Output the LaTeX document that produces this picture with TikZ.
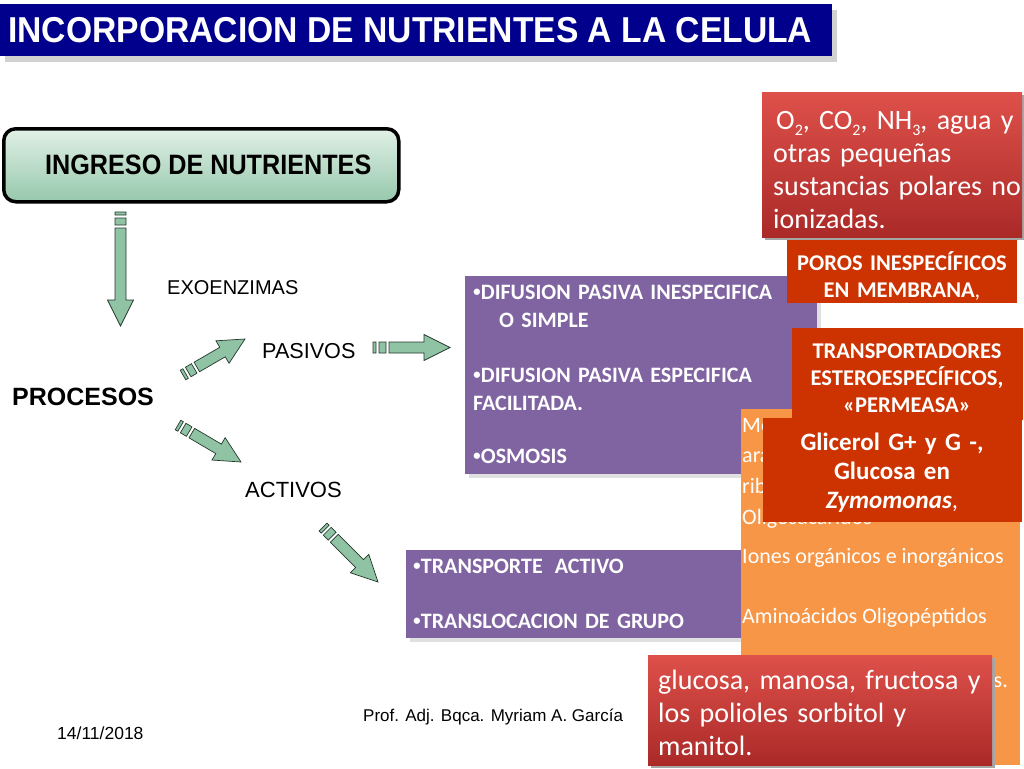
\documentclass[tikz,border=0pt]{standalone}
\usepackage{fontspec}
\setmainfont{Liberation Sans}
\newfontfamily\calibri{Carlito}
\usetikzlibrary{calc,shadows}

\definecolor{titleblue}{RGB}{0,0,140}
\definecolor{mint}{RGB}{143,195,164}
\definecolor{mintline}{RGB}{35,55,45}
\definecolor{mintlight}{RGB}{225,240,230}
\definecolor{mintdark}{RGB}{150,200,172}
\definecolor{lila}{RGB}{128,100,162}
\definecolor{orangebox}{RGB}{247,150,70}
\definecolor{rust}{RGB}{204,51,0}
\definecolor{redtop}{RGB}{222,80,74}
\definecolor{redbot}{RGB}{170,42,40}

\newcommand\bul{{\rmfamily\bfseries •}}
\newcommand\sub[1]{\raisebox{-0.22em}{\fontsize{16}{16}\selectfont #1}}

\tikzset{
  plainbox/.style={inner sep=0pt, anchor=north west},
  titlebar/.style={plainbox, fill=titleblue, general shadow={fill=black!18, shadow xshift=5pt, shadow yshift=-6pt}},
  ingreso/.style={plainbox, rounded corners=12pt, draw=black, line width=3.5pt,
    top color=mintlight, bottom color=mintdark, font=\fontsize{28}{32}\selectfont\bfseries},
  lilabox/.style={plainbox, fill=lila, general shadow={fill=black!12, shadow xshift=4pt, shadow yshift=-4pt}},
  redbox/.style={plainbox, top color=redtop, bottom color=redbot, general shadow={fill=black!35, shadow xshift=3pt, shadow yshift=-3pt}},
  rustbox/.style={plainbox, fill=rust},
  lbl/.style={anchor=base west, inner sep=0pt},
  boxtext/.style={anchor=base west, inner sep=0pt, text=white, font=\calibri\bfseries\fontsize{22}{28}\selectfont},
  orgtext/.style={inner sep=0pt, text=white, font=\calibri\fontsize{22}{27}\selectfont},
  redtext/.style={anchor=base west, inner sep=0pt, text=white, text width=262pt, align=left, font=\calibri\fontsize{28}{33.3}\selectfont},
  rusttext/.style={anchor=base, inner sep=0pt, text=white, text width=228pt, align=center, font=\calibri\bfseries\fontsize{22.5}{27}\selectfont},
  arrowfill/.style={fill=mint, draw=mintline, line width=0.7pt},
  pics/fatarrow/.style={code={
    \filldraw[arrowfill] (0,-5.5) rectangle (3,5.5) (6,-5.5) rectangle (13,5.5)
      (16,-5.5) -- ({#1-26},-5.5) -- ({#1-26},-13) -- (#1,0) -- ({#1-26},13) -- ({#1-26},5.5) -- (16,5.5) -- cycle;
  }}
}

\newcommand\fatarrow[2]{%
  \path let \p1=($(#2)-(#1)$), \n1={atan2(\y1,\x1)}, \n2={scalar(veclen(\x1,\y1))} in
    pic[rotate=\n1] at (#1) {fatarrow=\n2};}

\begin{document}
\begin{tikzpicture}[x=1pt,y=-1pt]
\useasboundingbox (0,0) rectangle (1024,768);

\node[titlebar, minimum width=832pt, minimum height=52pt] (titulo) at (0,4) {};
\node[lbl, text=white, font=\fontsize{36}{40}\selectfont\bfseries] (tit) at (8,43)
  {\scalebox{0.935}[1]{INCORPORACION DE NUTRIENTES A LA CELULA}};

\node[ingreso, minimum width=395pt, minimum height=73pt] (ingr) at (2,127)
  {\hspace*{14pt}\scalebox{0.9}[1]{INGRESO DE NUTRIENTES}};

\node[lbl, font=\fontsize{20}{24}\selectfont] (exo) at (167,294) {EXOENZIMAS};
\node[lbl, font=\fontsize{25}{30}\selectfont\bfseries] (proc) at (12,405) {PROCESOS};
\node[lbl, font=\fontsize{21.6}{26}\selectfont] (pas) at (262,358) {PASIVOS};
\node[lbl, font=\fontsize{22}{26}\selectfont] (act) at (245,497) {ACTIVOS};

\coordinate (d0) at (120.5,212);
\coordinate (d1) at (120.5,326);
\coordinate (p0) at (183,375);
\coordinate (p1) at (245,339);
\coordinate (a0) at (178,425);
\coordinate (a1) at (241,462);
\coordinate (q0) at (373,347.5);
\coordinate (q1) at (450,347.5);
\coordinate (t0) at (323,527);
\coordinate (t1) at (378,582);
\fatarrow{d0}{d1}
\fatarrow{p0}{p1}
\fatarrow{a0}{a1}
\fatarrow{q0}{q1}
\fatarrow{t0}{t1}

\node[lilabox, minimum width=352pt, minimum height=198pt] (pasbox) at (465,276) {};
\node[boxtext, text width=310pt] (pastxt) at (473,299)
  {\bul DIFUSION PASIVA INESPECIFICA\\
   \hspace*{26pt}O SIMPLE\\[27pt]
   \makebox[304pt][s]{\bul DIFUSION PASIVA ESPECIFICA}\\
   FACILITADA.\\[25pt]
   \bul OSMOSIS};

\node[lilabox, minimum width=380pt, minimum height=88pt] (actbox) at (406,550) {};
\node[boxtext, text width=330pt] (acttxt) at (413,573)
  {\bul TRANSPORTE\hspace{12pt}ACTIVO\\[27pt]
   \bul TRANSLOCACION DE GRUPO};

\node[plainbox, fill=orangebox, minimum width=279pt, minimum height=356pt] (orgbox) at (741,409) {};
\foreach \yy/\txt [count=\n] in {432/Mo, 462/ara, 493/rib, 524/Oligosacáridos,
    563/Iones orgánicos e inorgánicos, 623/Aminoácidos Oligopéptidos}
  \node[orgtext, anchor=base west] (org\n) at (742,\yy) {\txt};
\node[orgtext, anchor=base east] (org7) at (1008,687) {s.};

\node[redbox, minimum width=260pt, minimum height=145pt] (polbox) at (762,92) {};
\node[redtext] (poltxt) at (773,129)
  {\hspace*{3pt}O\sub{2}, CO\sub{2}, NH\sub{3}, agua y\\
   otras pequeñas\\
   sustancias polares no\\
   ionizadas.};

\node[rustbox, minimum width=230pt, minimum height=63pt] (porbox) at (787,240) {};
\node[rusttext] (portxt) at (902,270) {POROS INESPECÍFICOS\\EN MEMBRANA{\mdseries ,}};

\node[rustbox, minimum width=231pt, minimum height=92pt] (perbox) at (792,328) {};
\node[rusttext] (pertxt) at (907,358) {TRANSPORTADORES\\ESTEROESPECÍFICOS,\\«PERMEASA»};

\node[rustbox, minimum width=259pt, minimum height=104pt] (glibox) at (763,418) {};
\node[rusttext, text width=255pt, font=\calibri\bfseries\fontsize{25}{29}\selectfont] (glitxt) at (892,450)
  {Glicerol G+ y G -,\\Glucosa en\\\textit{Zymomonas}{\mdseries ,}};

\node[redbox, minimum width=344pt, minimum height=110pt] (azubox) at (648,655) {};
\node[redtext, text width=340pt] (azutxt) at (658,689)
  {glucosa, manosa, fructosa y\\
   los polioles sorbitol y\\
   manitol.};

\node[lbl, font=\fontsize{17}{20}\selectfont] (prof) at (363,721) {Prof. Adj. Bqca. Myriam A. García};
\node[lbl, font=\fontsize{17.5}{20}\selectfont] (fecha) at (57,739) {14/11/2018};
\end{tikzpicture}
\end{document}
